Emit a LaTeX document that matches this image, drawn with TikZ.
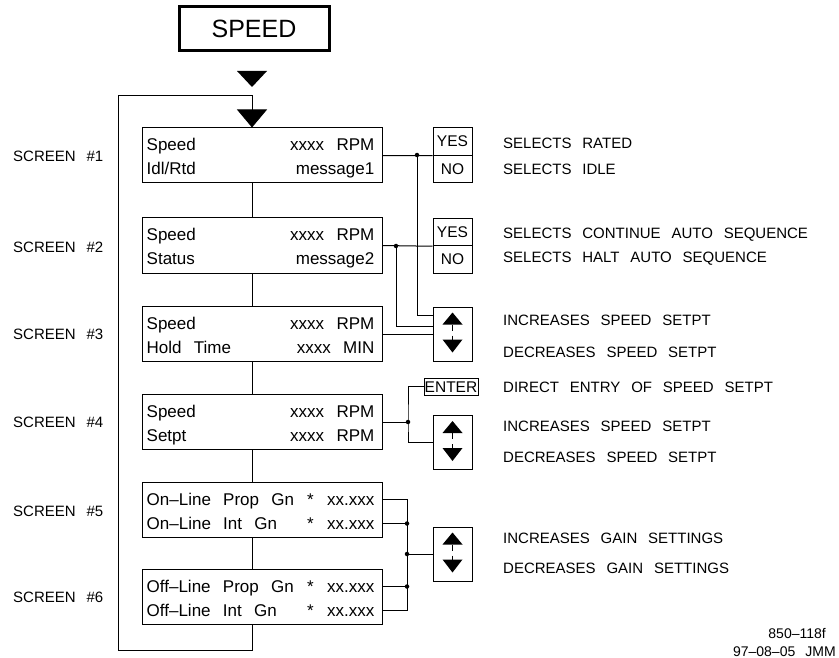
\documentclass[tikz,border=0pt]{standalone}
\usepackage{fontspec}
\setmainfont{Liberation Sans}[WordSpace=2.6]
\usetikzlibrary{arrows.meta,positioning,calc}

\begin{document}
\begin{tikzpicture}[
    x=1pt, y=-1pt,
    scrbox/.style={draw, line width=1pt, minimum width=240pt, minimum height=55pt, inner sep=0pt},
    keybox/.style={draw, line width=1pt, minimum width=39pt, minimum height=27.5pt, inner sep=0pt, font=\fontsize{15.5}{16}\selectfont, text height=11pt, text depth=0pt},
    arrbox/.style={draw, line width=1pt, minimum width=39pt, minimum height=54pt, inner sep=0pt},
    txt/.style={anchor=west, inner sep=0pt, font=\fontsize{15}{16}\selectfont, text height=11pt, text depth=0pt},
    rtxt/.style={txt, anchor=east},
    scrtxt/.style={txt, font=\fontsize{17}{18}\selectfont, text height=12pt},
    rscrtxt/.style={scrtxt, anchor=east},
    wire/.style={line width=1pt},
    dot/.style={circle, fill, inner sep=0pt, minimum size=4.5pt}
]
\useasboundingbox (0,0) rectangle (839,658);

\node[draw, line width=3pt, minimum width=150pt, minimum height=44pt, font=\fontsize{25}{26}\selectfont] (title) at (254,29) {SPEED};
\fill (237,71) -- (267,71) -- (252,87) -- cycle;
\coordinate (lx) at (252,0);

\node[scrbox] (S1) at (262,155.5) {};
\node[scrbox] (S2) at (262,245.5) {};
\node[scrbox] (S3) at (262,334) {};
\node[scrbox] (S4) at (262,422) {};
\node[scrbox] (S5) at (262,509.5) {};
\node[scrbox] (S6) at (262,596.5) {};

\node[scrtxt] (s1a) at ($(S1.west)+(5,-11)$) {Speed};
\node[scrtxt] (s1b) at ($(S1.west)+(5,13)$) {Idl/Rtd};
\node[rscrtxt] (s1c) at ($(S1.east)+(-8,-11)$) {xxxx RPM};
\node[rscrtxt] (s1d) at ($(S1.east)+(-8,13)$) {message1};
\node[scrtxt] (s2a) at ($(S2.west)+(5,-11)$) {Speed};
\node[scrtxt] (s2b) at ($(S2.west)+(5,13)$) {Status};
\node[rscrtxt] (s2c) at ($(S2.east)+(-8,-11)$) {xxxx RPM};
\node[rscrtxt] (s2d) at ($(S2.east)+(-8,13)$) {message2};
\node[scrtxt] (s3a) at ($(S3.west)+(5,-11)$) {Speed};
\node[scrtxt] (s3b) at ($(S3.west)+(5,13)$) {Hold Time};
\node[rscrtxt] (s3c) at ($(S3.east)+(-8,-11)$) {xxxx RPM};
\node[rscrtxt] (s3d) at ($(S3.east)+(-8,13)$) {xxxx MIN};
\node[scrtxt] (s4a) at ($(S4.west)+(5,-11)$) {Speed};
\node[scrtxt] (s4b) at ($(S4.west)+(5,13)$) {Setpt};
\node[rscrtxt] (s4c) at ($(S4.east)+(-8,-11)$) {xxxx RPM};
\node[rscrtxt] (s4d) at ($(S4.east)+(-8,13)$) {xxxx RPM};
\node[scrtxt] (s5a) at ($(S5.west)+(5,-10)$) {On–Line Prop Gn};
\node[scrtxt] (s5b) at ($(S5.west)+(5,14)$) {On–Line Int Gn};
\node[scrtxt] (s6a) at ($(S6.west)+(5,-10)$) {Off–Line Prop Gn};
\node[scrtxt] (s6b) at ($(S6.west)+(5,14)$) {Off–Line Int Gn};
\foreach \s in {S5,S6} {
    \node[rscrtxt] (\s x1) at ($(\s.east)+(-8,-10)$) {xx.xxx};
    \node[rscrtxt] (\s x2) at ($(\s.east)+(-8,14)$) {xx.xxx};
    \node[scrtxt, anchor=center] (\s s1) at ($(\s.east)+(-72,-10)$) {*};
    \node[scrtxt, anchor=center] (\s s2) at ($(\s.east)+(-72,14)$) {*};
}

\foreach \n/\y in {1/156,2/247,3/334,4/422,5/511,6/597}
    \node[txt] (L\n) at (13,\y) {SCREEN \#\n};

\node[keybox] (Y1) at (452.5,141.5) {YES};
\node[keybox] (N1) at (452.5,169) {NO};
\node[keybox] (Y2) at (452.5,232) {YES};
\node[keybox] (N2) at (452.5,259.5) {NO};
\node[arrbox] (A3) at (452.5,334) {};
\node[draw, line width=1pt, minimum width=54pt, minimum height=17pt, inner sep=0pt, font=\fontsize{15.5}{16}\selectfont, text height=11pt, text depth=0pt] (ENT) at (451,386.5) {ENTER};
\node[arrbox] (A4) at (452.5,442.5) {};
\node[arrbox] (AG) at (452.5,554) {};
\foreach \b in {A3,A4,AG} {
    \fill ($(\b)+(0,-21.5)$) -- ++(-10,12) -- ++(20,0) -- cycle;
    \draw[wire] ($(\b)+(0,-9.5)$) -- ++(0,6);
    \draw[wire] ($(\b)+(0,1.5)$) -- ++(0,4);
    \fill ($(\b)+(0,18.5)$) -- ++(-10,-13) -- ++(20,0) -- cycle;
}

\node[txt] (t1) at (503,143) {SELECTS RATED};
\node[txt] (t2) at (503,169) {SELECTS IDLE};
\node[txt] (t3) at (503,233) {SELECTS CONTINUE AUTO SEQUENCE};
\node[txt] (t4) at (503,257) {SELECTS HALT AUTO SEQUENCE};
\node[txt] (t5) at (503,320) {INCREASES SPEED SETPT};
\node[txt] (t6) at (503,352) {DECREASES SPEED SETPT};
\node[txt] (t7) at (503,387) {DIRECT ENTRY OF SPEED SETPT};
\node[txt] (t8) at (503,426) {INCREASES SPEED SETPT};
\node[txt] (t9) at (503,457) {DECREASES SPEED SETPT};
\node[txt] (t10) at (503,538) {INCREASES GAIN SETTINGS};
\node[txt] (t11) at (503,568) {DECREASES GAIN SETTINGS};

\node[rtxt, font=\fontsize{14}{15}\selectfont, text height=10pt] (ref1) at (826,633) {850–118f};
\node[rtxt, font=\fontsize{14}{15}\selectfont, text height=10pt] (ref2) at (836,651) {97–08–05 JMM};

% main chain and return loop
\foreach \a/\b in {S1/S2,S2/S3,S3/S4,S4/S5,S5/S6}
    \draw[wire] (\a.south -| lx) -- (\b.north -| lx);
\draw[wire, -{Triangle[width=30pt,length=18pt]}] (S6.south -| lx) -- ++(0,26) -| (118,96) -- (lx |- 0,96) -- (S1.north -| lx);

% key wiring
\node[dot] (d1) at (417,155) {};
\node[dot] (d2) at (396,246) {};
\node[dot] (d4) at (408,422) {};
\draw[wire] (S1.east) -- (Y1.south west);
\draw[wire] (d1.center) |- ($(A3.west)+(0,-19)$);
\draw[wire] (S2.east) -- (Y2.south west);
\draw[wire] (d2.center) |- ($(A3.west)+(0,-8)$);
\draw[wire] (S3.east) -- (A3.west);
\draw[wire] (S4.east) -- (d4.center);
\draw[wire] (ENT.west) -| (d4.center) |- (A4.west);

\coordinate (b5a) at ($(S5.east)+(0,-10)$);
\coordinate (b5b) at ($(S5.east)+(0,14)$);
\coordinate (b6a) at ($(S6.east)+(0,-10)$);
\coordinate (b6b) at ($(S6.east)+(0,14)$);
\node[dot] (dg) at (407,554) {};
\node[dot] (d5) at (b5b -| dg) {};
\node[dot] (d6) at (b6a -| dg) {};
\draw[wire] (b5a) -- (b5a -| dg.center) -- (b6b -| dg.center) -- (b6b);
\draw[wire] (b5b) -- (d5.center);
\draw[wire] (b6a) -- (d6.center);
\draw[wire] (dg.center) -- (AG.west);
\end{tikzpicture}
\end{document}
